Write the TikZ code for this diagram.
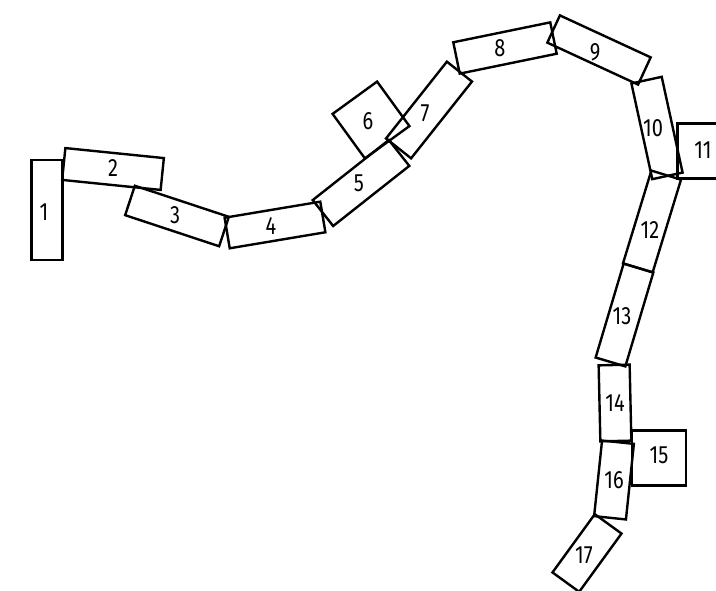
\documentclass[tikz,border=0pt]{standalone}
\usepackage{fontspec}
\setmainfont{Fira Sans}[FakeStretch=0.8]
\begin{document}
\begin{tikzpicture}[x=1pt,y=-1pt,
  domino/.style={draw=black, line width=2.4pt, inner sep=0pt, minimum width=#1},
  num/.style={font=\fontsize{25}{25}\selectfont, inner sep=0pt}]
\useasboundingbox (0,0) rectangle (716,591);
% boxes
\node[domino=31pt, minimum height=100pt] (b1) at (47,210) {};
\node[domino=99pt, minimum height=32pt, rotate=-5.8] (b2) at (113,169) {};
\node[domino=99pt, minimum height=31pt, rotate=-18.3] (b3) at (177,216) {};
\node[domino=97pt, minimum height=31pt, rotate=9.5] (b4) at (275,225) {};
\node[domino=97pt, minimum height=33pt, rotate=38.3] (b5) at (361,183) {};
\node[domino=55pt, minimum height=55pt, rotate=36] (b6) at (371,120) {};
\node[domino=98pt, minimum height=32pt, rotate=51.6] (b7) at (429,110) {};
\node[domino=99pt, minimum height=32pt, rotate=11.6] (b8) at (505,48) {};
\node[domino=100pt, minimum height=30pt, rotate=-24.8] (b9) at (599,50) {};
\node[domino=31pt, minimum height=98pt, rotate=12.3] (b10) at (657,128) {};
\node[domino=55pt, minimum height=55pt] (b11) at (705,151) {};
\node[domino=31pt, minimum height=97pt, rotate=-17] (b12) at (652,221.5) {};
\node[domino=31pt, minimum height=98pt, rotate=-16.6] (b13) at (624.5,315) {};
\node[domino=31pt, minimum height=76pt, rotate=1.3] (b14) at (615,403) {};
\node[domino=54pt, minimum height=55pt] (b15) at (659,458) {};
\node[domino=32pt, minimum height=76pt, rotate=-6] (b16) at (614,480) {};
\node[domino=33pt, minimum height=72pt, rotate=-36] (b17) at (587,553) {};
% numbers
\node[num] (n1) at (44,212) {1};
\node[num] (n2) at (113,168) {2};
\node[num] (n3) at (175,215) {3};
\node[num] (n4) at (271,226) {4};
\node[num] (n5) at (359,183) {5};
\node[num] (n6) at (368,121) {6};
\node[num] (n7) at (425,113) {7};
\node[num] (n8) at (500,48) {8};
\node[num] (n9) at (595,52) {9};
\node[num] (n10) at (653,128) {10};
\node[num] (n11) at (703,150) {11};
\node[num] (n12) at (650,230) {12};
\node[num] (n13) at (622,316) {13};
\node[num] (n14) at (615,403) {14};
\node[num] (n15) at (659,455) {15};
\node[num] (n16) at (614,480) {16};
\node[num] (n17) at (584,555) {17};
\end{tikzpicture}
\end{document}
